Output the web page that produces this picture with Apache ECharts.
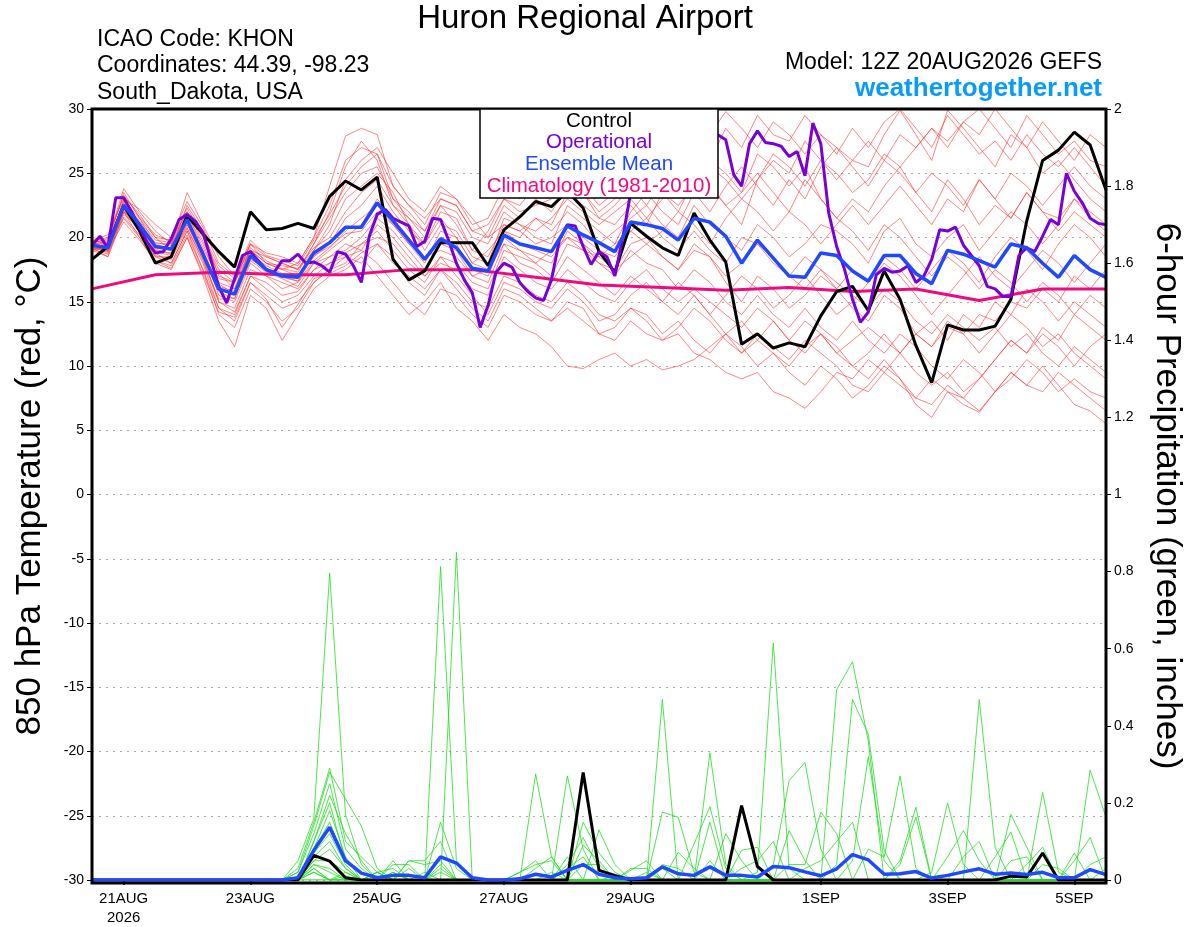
<!DOCTYPE html>
<html>
<head>
<meta charset="utf-8">
<script src="https://cdn.jsdelivr.net/npm/echarts@6/dist/echarts.min.js"></script>
<style>
html, body { margin: 0; padding: 0; background: #fff; }
#main { width: 1200px; height: 927px; }
</style>
</head>
<body>
<div id="main"></div>
<script>
// forecast hours from 12Z 20AUG2026, members every 6 h, operational every 3 h
var tickHours = [12, 60, 108, 156, 204, 276, 324, 372];
var tickLabels = ['21AUG\n2026', '23AUG', '25AUG', '27AUG', '29AUG', '1SEP', '3SEP', '5SEP'];

var control = [18.3,19.3,22.5,20.5,18.0,18.5,21.7,20.3,18.9,17.7,22.0,20.6,20.7,21.1,20.7,23.2,24.4,23.7,
  24.7,18.3,16.7,17.4,19.6,19.6,19.6,17.8,20.6,21.6,22.8,22.4,23.6,22.3,18.9,17.3,
  21.1,20.1,19.2,18.6,21.9,19.8,18.1,11.7,12.5,11.4,11.8,11.5,13.9,15.8,16.2,
  14.3,17.4,15.2,11.6,8.7,13.2,12.8,12.8,13.1,15.2,21.3,26.0,26.8,28.2,27.2,23.7];

var ensMean = [19.4,19.2,22.5,21.0,19.3,19.1,21.4,18.7,16.0,15.6,18.6,17.5,17.0,16.9,18.8,19.6,20.8,20.8,
  22.7,21.3,19.8,18.3,19.9,19.2,17.6,17.4,20.2,19.5,19.2,18.9,20.9,20.2,19.6,18.9,
  21.2,21.0,20.7,19.8,21.5,21.2,20.1,18.0,19.8,18.4,17.0,16.9,18.8,18.6,17.4,
  16.6,18.6,18.6,17.2,16.4,19.0,18.7,18.2,17.7,19.5,19.2,18.0,16.9,18.6,17.5,16.9];

var operational = [19.4,20.1,19.2,23.1,23.1,22.0,20.8,19.6,18.8,18.9,19.9,21.4,21.8,21.3,20.4,18.3,
  16.2,14.9,16.8,18.6,18.9,18.2,17.5,17.3,18.2,18.2,18.7,18.0,18.1,17.8,17.3,18.9,
  18.7,17.8,16.5,20.1,21.8,22.2,21.5,21.2,20.9,19.3,19.7,21.5,21.4,19.8,18.0,16.7,
  15.7,13.0,14.7,17.3,18.0,17.7,16.5,15.8,15.3,15.1,16.7,19.8,21.0,20.9,19.3,17.9,
  18.9,18.5,17.0,20.0,23.5,24.5,25.5,26.0,26.5,27.0,26.8,27.2,27.5,27.8,28.2,28.0,
  27.6,24.9,24.0,27.3,28.3,27.4,27.3,27.1,26.3,26.7,24.8,28.9,27.3,21.9,19.3,17.5,
  15.2,13.4,14.2,17.1,17.6,17.3,17.4,17.8,16.5,17.0,18.3,20.6,20.5,20.8,19.4,18.6,
  17.8,16.2,16.0,15.4,15.4,18.6,19.2,18.9,20.1,21.4,21.0,25.0,23.6,22.7,21.5,21.1,21.0];

// daily climatology (1981-2010)
var climatology = [16.0,17.1,17.3,17.1,17.1,17.5,17.5,16.9,16.3,16.1,15.9,16.1,15.8,16.0,15.1,16.0,16.0];

var tempMembers = [
  [19.8,19.5,23.5,21.5,20.0,19.0,22.5,20.5,17.0,16.5,19.5,18.5,18.0,17.5,19.5,22.0,25.5,27.5,
   26.0,22.5,21.0,19.5,22.0,21.5,19.0,20.5,23.0,22.5,24.0,23.5,25.5,24.0,22.5,23.5,
   25.0,24.5,26.5,25.0,27.0,26.0,28.5,27.0,29.5,28.0,27.5,29.5,28.0,26.5,28.5,
   27.0,29.0,30.0,28.5,27.0,29.5,28.0,26.5,27.5,26.0,28.0,26.5,25.5,27.0,25.5,24.0],
  [19.2,18.5,22.0,20.5,18.5,18.0,20.5,17.5,14.5,13.5,16.5,15.5,14.5,15.0,16.5,17.5,18.5,19.0,
   18.0,16.5,15.0,14.0,16.0,15.5,14.0,13.0,15.5,15.0,14.0,13.5,15.0,14.5,12.5,13.0,
   14.5,14.0,12.5,13.5,12.0,11.0,12.5,11.5,10.0,11.0,9.5,8.5,10.0,9.0,7.5,
   8.5,10.0,9.0,7.0,6.0,8.0,7.5,6.5,8.0,9.5,8.5,10.0,8.5,7.0,6.5,5.5],
  [19.5,19.0,22.0,20.0,18.0,17.5,20.0,17.0,13.5,11.5,15.5,14.5,12.0,14.0,16.0,17.0,17.5,18.5,
   17.0,15.5,14.0,15.0,16.5,14.5,13.5,12.0,14.0,13.0,12.5,11.5,10.0,9.8,10.5,11.0,
   10.0,10.5,9.7,10.0,10.5,11.5,12.5,11.0,12.0,11.0,10.0,11.5,12.5,11.0,12.0,
   13.0,12.0,11.0,12.5,13.5,12.0,14.0,13.0,15.0,14.0,16.0,15.0,13.5,15.0,14.0,13.0],
  [19.6,19.8,23.8,22.0,20.5,19.5,23.5,21.0,18.5,17.0,19.0,18.0,17.5,18.0,20.0,24.0,27.9,28.5,
   28.0,24.0,22.5,21.0,23.5,23.0,21.5,20.0,22.5,21.5,23.0,22.0,24.0,23.5,21.5,22.5,
   24.0,22.5,24.5,23.0,25.5,24.0,22.5,23.5,25.0,23.5,22.0,24.5,23.0,21.5,23.0,
   22.0,24.0,25.5,23.5,22.0,24.5,23.0,21.0,22.5,21.5,23.5,22.0,21.5,23.0,22.0,21.0],
  [19.0,19.3,21.5,20.0,18.5,18.5,21.0,19.0,15.5,15.0,18.0,17.0,16.5,16.0,17.5,18.5,19.5,19.0,
   21.0,20.0,18.5,17.0,18.5,18.0,16.5,16.0,19.0,18.5,18.0,17.0,19.5,19.0,18.5,17.5,
   19.5,20.0,18.5,17.5,19.0,18.5,16.5,15.0,17.0,16.0,14.5,15.5,17.0,16.0,14.5,
   13.5,15.5,14.5,12.5,11.5,13.5,12.5,11.0,12.5,14.0,13.0,11.5,12.5,11.0,10.0,9.0],
  [19.4,19.6,22.8,21.5,19.5,19.5,21.8,19.5,16.5,16.0,19.0,18.0,17.5,17.0,19.0,20.5,23.0,24.0,
   25.0,23.5,21.0,19.0,21.0,20.5,18.5,18.0,21.5,21.0,20.0,19.5,22.5,21.5,20.5,19.5,
   22.0,23.5,22.0,21.0,23.5,24.0,22.5,21.0,24.5,26.0,25.0,27.5,26.0,24.5,26.0,
   25.5,28.0,29.9,28.0,26.0,29.9,28.5,27.0,25.5,28.0,27.0,25.0,26.0,24.5,23.0,22.0],
  [19.3,18.8,22.2,20.5,18.8,18.0,20.5,18.0,14.5,14.0,17.0,16.0,15.0,15.5,17.0,18.0,18.5,18.0,
   19.5,18.0,17.0,16.0,17.5,16.5,15.0,14.5,17.0,16.5,15.5,15.0,16.5,15.5,14.0,13.5,
   14.5,13.5,12.0,12.5,11.0,10.5,9.5,9.0,9.5,8.0,7.5,6.7,8.0,9.5,9.0,
   10.5,9.5,11.0,12.5,11.5,13.0,12.5,14.0,13.5,15.0,14.5,16.0,15.0,17.0,16.0,17.5],
  [19.7,20.0,23.2,21.8,20.0,19.8,22.0,20.0,17.5,16.5,19.0,18.5,18.0,17.5,19.0,21.0,24.5,26.0,
   27.0,25.0,23.0,22.0,24.0,23.0,21.0,21.5,24.0,23.0,25.5,24.5,26.0,25.0,24.5,26.0,
   27.5,26.5,28.0,27.0,29.0,28.0,29.8,28.5,27.0,29.0,28.0,26.5,28.0,27.0,25.5,
   24.0,26.0,25.0,23.5,25.0,24.0,22.5,24.5,23.0,21.5,23.5,22.0,20.5,22.0,21.0,20.0],
  [19.1,18.7,21.8,20.8,19.0,18.8,21.0,18.5,15.0,14.5,17.5,17.0,16.0,16.5,18.0,19.0,20.0,21.0,
   23.0,21.5,20.0,18.5,20.0,19.5,17.5,17.0,20.0,19.0,18.5,18.0,20.5,19.5,18.0,17.0,
   19.0,18.0,17.5,16.0,17.5,16.5,15.0,14.0,15.5,14.0,13.0,14.5,13.0,12.0,13.5,
   12.0,11.0,12.5,11.5,10.0,9.0,10.5,9.5,8.0,9.0,10.5,9.5,8.0,9.0,8.0,7.5],
  [19.5,19.2,22.6,21.2,19.4,19.2,21.5,19.0,16.2,15.8,18.7,17.8,17.2,17.0,18.5,19.5,21.5,22.5,
   24.0,22.0,20.5,19.5,21.5,20.0,18.0,19.0,20.5,20.0,21.5,20.5,22.0,21.0,19.5,20.5,
   21.5,22.5,21.0,20.0,22.5,21.0,20.0,19.0,21.0,20.0,18.5,19.5,21.0,20.5,19.5,
   18.0,20.5,21.5,19.5,18.5,20.0,21.0,19.0,20.5,22.0,21.0,19.5,21.0,23.0,21.5,20.5],
  [19.0,18.5,21.6,20.2,18.2,17.8,20.2,17.5,14.0,13.0,16.0,15.0,13.5,14.5,16.5,17.5,18.0,19.5,
   20.5,19.0,17.5,16.5,18.5,17.0,15.5,14.0,16.5,16.0,15.0,14.5,16.0,15.0,13.5,14.0,
   15.5,16.5,15.0,14.0,15.5,14.0,12.5,13.5,12.0,13.5,12.0,11.0,12.5,11.5,10.0,
   11.0,12.5,11.0,9.5,8.5,9.5,8.0,9.0,10.5,12.0,11.0,12.5,11.5,10.0,11.5,12.5],
  [19.6,19.4,22.9,21.0,19.6,19.4,21.8,19.2,16.8,16.5,19.5,18.0,17.8,17.6,19.2,20.0,22.0,23.5,
   24.5,22.5,21.5,20.5,22.5,22.0,20.0,19.5,22.0,21.0,20.5,21.5,23.0,22.0,21.0,22.0,
   23.0,21.5,23.0,24.5,23.5,22.0,24.0,25.5,24.0,22.5,24.5,23.0,25.5,27.0,26.0,
   27.5,26.0,28.0,27.0,28.5,27.5,29.0,28.0,30.0,28.5,27.0,29.0,27.5,26.0,28.0,27.0],
  [19.3,19.0,22.3,20.6,18.9,18.6,20.8,18.3,15.2,15.3,18.2,17.3,16.8,16.2,18.0,18.5,19.0,20.0,
   21.5,20.5,19.0,17.5,19.5,19.0,17.0,16.5,19.5,18.0,17.5,16.5,18.5,17.5,16.5,15.5,
   17.0,16.0,15.0,16.5,15.5,14.0,15.5,17.0,16.0,14.5,15.5,17.0,15.5,14.0,15.0,
   16.5,18.0,17.0,15.5,14.0,15.5,17.0,18.5,17.0,16.0,17.5,19.0,18.0,16.5,18.0,19.5],
  [19.8,20.2,23.0,22.2,21.0,20.0,22.8,20.8,18.0,17.0,19.5,18.8,18.5,18.0,20.0,22.5,26.0,27.0,
   26.5,23.0,22.0,20.5,23.0,22.5,20.5,20.0,21.0,20.5,19.5,20.0,21.0,20.0,19.0,18.5,
   20.5,19.5,20.5,22.0,21.0,19.5,21.5,23.0,22.0,20.5,22.0,21.0,19.5,21.0,22.5,
   21.0,22.5,24.0,22.5,21.0,23.0,22.0,24.5,23.0,25.0,24.0,22.5,24.0,25.5,24.0,23.0],
  [19.2,18.9,22.1,20.7,18.6,18.3,20.7,18.2,15.0,14.2,17.0,16.5,15.5,15.8,17.5,18.0,18.8,19.5,
   20.0,19.5,18.0,17.0,18.0,17.5,16.0,15.5,18.5,17.5,16.5,16.0,17.5,16.5,15.5,15.0,
   16.5,17.5,16.0,15.0,16.0,15.0,14.0,13.0,14.5,13.5,12.0,13.5,12.5,11.0,10.0,
   9.0,10.5,9.0,7.5,7.0,8.5,7.5,9.0,10.5,12.0,11.0,13.0,12.0,14.0,13.0,12.0],
  [19.5,19.7,22.7,21.3,19.8,19.6,22.0,19.7,17.2,16.0,19.2,18.2,17.6,17.3,19.5,21.5,23.5,25.0,
   25.5,23.0,21.5,20.0,22.5,21.0,19.0,18.5,21.0,20.5,21.5,21.0,23.5,22.5,21.5,21.0,
   22.5,21.0,23.5,22.0,24.5,26.0,25.0,23.5,26.5,25.5,24.0,25.5,23.0,21.5,20.5,
   19.0,21.0,20.0,18.5,17.0,18.5,17.5,16.0,17.5,16.5,15.0,16.5,15.5,14.0,15.5,14.5],
  [19.4,19.1,22.4,21.1,19.2,19.0,21.2,18.9,15.8,15.2,18.4,17.4,16.9,16.6,18.2,19.2,20.5,21.5,
   22.5,21.0,19.5,18.0,20.5,20.0,18.0,17.5,20.5,19.5,19.0,18.5,20.0,19.5,18.5,19.5,
   20.5,21.5,20.0,19.0,20.5,19.0,18.0,20.0,19.5,18.0,17.0,18.5,17.5,16.0,17.5,
   16.5,18.5,17.5,16.0,17.5,19.0,18.0,16.5,18.5,20.0,19.0,17.5,19.5,21.0,20.0,18.5],
  [19.2,19.0,21.2,19.8,18.2,17.6,20.0,17.2,14.2,13.8,16.5,15.2,13.0,14.8,16.8,17.2,17.8,18.8,
   19.5,18.5,16.5,15.5,17.5,16.0,14.5,13.5,16.0,15.5,14.5,13.5,14.5,13.5,12.5,12.0,
   13.5,12.5,12.0,13.0,14.5,13.5,12.0,11.0,12.5,11.5,10.5,12.0,11.0,10.0,8.5,
   8.0,9.5,8.5,7.5,9.0,8.0,7.0,6.4,8.0,9.5,8.5,8.0,9.5,8.5,7.5,6.5],
  [19.6,19.9,23.3,21.6,20.2,19.7,22.3,20.2,17.8,16.8,19.8,18.6,18.2,17.8,19.8,21.8,24.0,25.5,
   26.5,24.0,22.5,21.5,23.0,22.5,20.5,21.0,23.0,22.0,22.5,23.0,24.5,23.5,22.0,23.0,
   24.0,25.0,23.5,22.5,24.0,25.5,24.5,23.0,24.5,26.5,25.5,24.0,26.0,25.0,23.5,
   24.5,26.5,25.5,27.0,28.5,27.0,29.0,30.0,28.5,27.0,29.5,28.0,26.5,27.5,26.0,25.5],
  [19.3,19.4,22.0,20.9,19.1,18.7,21.3,18.6,16.4,15.6,18.3,17.6,17.0,16.6,18.6,19.3,20.3,20.5,
   22.0,21.0,19.5,18.5,19.0,18.5,17.0,17.5,19.5,19.0,18.0,19.0,20.0,19.0,18.0,17.5,
   18.5,19.5,18.5,17.5,19.5,18.5,17.0,18.0,19.5,18.5,17.0,16.0,17.5,16.5,15.5,
   14.5,16.0,15.0,13.5,12.5,14.0,13.0,12.0,13.0,11.5,12.5,11.0,10.0,11.5,10.5,9.5]
];

var precipControl = [0,0,0,0,0,0,0,0,0,0,0,0,0,
  0,.064,.049,.006,0,0,0,0,0,0,0,0,0,
  0,0,0,0,0,.279,.025,.012,0,0,0,0,0,
  0,0,.193,.035,0,0,0,0,0,0,0,0,0,
  0,0,0,0,0,0,.01,.008,.07,0,0,0,0];

var precipMean = [0,0,0,0,0,0,0,0,0,0,0,0,0,
  .006,.077,.137,.05,.018,.006,.012,.012,.006,.06,.044,.006,0,
  0,.003,.015,.008,.025,.04,.015,.006,.003,.006,.034,.016,.012,
  .034,.012,.012,.008,.035,.032,.021,.011,.029,.066,.052,.015,.016,
  .022,.005,.012,.021,.029,.015,.018,.014,.02,.006,.006,.027,.014];

var precipMembers = [
  [0,0,0,0,0,0,0,0,0,0,0,0,0, .05,.16,.796,.17,.04,0,0,0,0,.02,0,0,0,
   0,0,0,0,0,0,0,.01,0,0,.468,0,0, 0,0,0,0,0,0,0,0,0,0,0,0,.05, .189,0,0,0,0,0,0,0,0,0,0,0,0],
  [0,0,0,0,0,0,0,0,0,0,0,0,0, .03,.15,.29,.1,.06,.02,.03,0,0,0,0,0,0,
   0,0,.03,.06,0,0,0,0,0,0,.176,.163,.02, 0,0,0,0,0,0,0,0,0,0,0,0,.04, .163,0,0,0,0,0,0,0,0,0,0,0,0],
  [0,0,0,0,0,0,0,0,0,0,0,0,0, .02,.14,.28,.21,.14,.03,0,0,0,0,0,0,0,
   0,0,0,0,0,0,0,0,0,0,.04,.03,0, .05,0,0,0,0,0,0,0,0,0,0,0,0, 0,.02,.2,.04,0,0,0,0,0,0,0,0,0],
  [0,0,0,0,0,0,0,0,0,0,0,0,0, .02,.12,.25,.08,.03,0,0,0,0,.04,0,0,0,
   0,0,0,0,0,.09,.05,0,0,0,.03,0,0, 0,0,0,0,0,0,0,0,0,0,0,0,0, 0,0,.06,.128,.05,0,0,0,0,0,0,0,0],
  [0,0,0,0,0,0,0,0,0,0,0,0,0, 0,.1,.22,.12,.05,0,0,0,0,0,0,0,0,
   0,.02,.04,.05,0,0,0,0,0,0,0,.072,.03, 0,0,0,0,0,0,0,0,0,0,0,0,0, 0,0,0,.06,.1,0,0,0,0,0,0,0,0],
  [0,0,0,0,0,0,0,0,0,0,0,0,0, 0,.1,.2,.05,.02,0,.02,0,0,0,0,0,0,
   0,0,0,0,.27,.08,0,0,0,0,0,0,.094, .19,.03,0,0,0,0,0,0,0,0,0,0,0, 0,0,0,0,.468,.085,0,0,0,0,0,0,0],
  [0,0,0,0,0,0,0,0,0,0,0,0,0, 0,.08,.18,.06,0,0,0,.03,0,.03,0,0,0,
   0,0,0,0,0,0,0,0,0,.02,0,0,0, .33,.04,0,0,0,0,0,0,0,0,0,0,0, 0,0,0,0,0,.06,.124,0,0,0,0,0,0],
  [0,0,0,0,0,0,0,0,0,0,0,0,0, 0,.08,.15,.05,.02,0,0,0,0,0,0,0,0,
   0,0,0,.02,0,0,0,0,.025,.05,0,0,0, .15,0,0,0,0,0,0,0,0,0,0,0,0, 0,0,0,0,0,0,.17,.085,0,0,0,0,0],
  [0,0,0,0,0,0,0,0,0,0,0,0,0, 0,.07,.12,.04,0,.02,0,0,0,0,0,0,0,
   0,0,0,0,.04,.11,.03,0,0,0,0,0,0, 0,.12,.05,0,0,0,0,0,0,0,0,0,0, 0,0,0,0,0,0,.05,.06,0,0,0,0,0],
  [0,0,0,0,0,0,0,0,0,0,0,0,0, 0,.06,.1,.03,0,.02,0,0,0,.15,.03,0,0,
   0,0,0,0,0,0,0,0,0,0,0,0,0, 0,0,.077,.085,0,0,0,0,0,0,0,0,0, 0,0,0,0,0,0,0,.04,.085,0,0,0,0],
  [0,0,0,0,0,0,0,0,0,0,0,0,0, 0,.05,.08,.03,0,0,0,.05,.04,.05,0,0,0,
   0,0,.275,.06,0,0,0,0,0,0,0,0,0, 0,0,.03,.05,.1,0,0,0,0,0,0,0,0, 0,0,0,0,0,0,0,0,.227,.02,0,0,0],
  [0,0,0,0,0,0,0,0,0,0,0,0,0, 0,.05,.05,.02,0,.02,0,0,0,0,0,0,0,
   0,.02,.05,0,.06,0,0,0,0,0,0,0,0, 0,0,0,.02,.615,.03,0,0,0,0,0,0,0, 0,0,0,0,0,0,0,0,.04,.03,0,0,0],
  [0,0,0,0,0,0,0,0,0,0,0,0,0, 0,.04,.03,0,0,0,.05,0,.02,0,0,0,0,
   0,0,0,0,0,.15,.07,.02,0,0,0,0,0, 0,0,0,0,.04,.258,.305,.08,0,0,0,0,0, 0,0,0,0,0,0,0,0,0,0,.07,0,0],
  [0,0,0,0,0,0,0,0,0,0,0,0,0, 0,.04,.02,0,0,0,.04,.04,0,0,0,0,0,
   0,0,0,0,.03,.06,0,0,0,0,0,0,0, 0,0,0,0,0,.128,.05,0,0,0,0,0,0, 0,0,0,0,0,0,0,0,0,0,.05,.11,0],
  [0,0,0,0,0,0,0,0,0,0,0,0,0, 0,.03,0,.02,0,0,0,0,0,0,0,0,0,
   0,0,0,0,0,0,.13,.04,0,0,0,0,0, 0,0,0,0,0,.04,.04,.176,.12,0,0,0,0, 0,0,0,0,0,0,0,0,0,0,0,.285,.163],
  [0,0,0,0,0,0,0,0,0,0,0,0,0, 0,.03,0,.01,0,0,0,0,0,.813,.05,0,0,
   0,0,0,0,0,0,0,0,.03,.03,0,0,0, 0,0,0,0,0,0,.03,.05,.1,.15,0,0,0, 0,0,0,0,0,0,0,0,0,0,0,.04,.06],
  [0,0,0,0,0,0,0,0,0,0,0,0,0, 0,.02,0,0,0,.01,0,0,0,0,.85,0,0,
   0,0,0,0,0,0,0,0,0,0,0,0,0, 0,0,0,0,0,0,0,0,.494,.566,.36,0,0, 0,0,0,0,0,0,0,0,0,0,0,0,.03],
  [0,0,0,0,0,0,0,0,0,0,0,0,0, 0,.02,0,0,0,0,.02,0,0,0,0,0,0,
   0,0,0,0,0,0,0,0,0,0,0,0,0, 0,0,0,0,0,0,0,0,.04,.468,.378,.077,0, 0,0,0,0,0,0,0,0,0,0,0,0,0],
  [0,0,0,0,0,0,0,0,0,0,0,0,0, 0,0,0,0,0,0,0,.05,.05,.1,0,0,0,
   0,0,0,0,0,0,0,0,0,0,0,0,0, 0,0,0,0,0,0,0,0,0,.05,.32,.05,0, 0,0,0,0,0,0,0,0,0,0,0,0,0],
  [0,0,0,0,0,0,0,0,0,0,0,0,0, 0,0,0,0,0,0,0,0,0,0,0,0,0,
   0,0,0,0,0,.04,.04,0,0,0,0,0,0, 0,0,0,0,0,0,0,0,0,0,.08,.06,.27, .03,0,0,0,0,0,0,0,0,0,0,0,0]
];

var FONT = '"Liberation Sans", Arial, sans-serif';

function byHour(arr, step) {
  return arr.map(function (v, k) { return [k * step, v]; });
}

var series = [];
tempMembers.forEach(function (m, n) {
  series.push({
    name: 'member' + (n + 1), type: 'line', yAxisIndex: 0, data: byHour(m, 6),
    showSymbol: false, silent: true,
    lineStyle: { color: '#ff3030', width: 0.8, opacity: 0.75 }
  });
});
precipMembers.forEach(function (m, n) {
  series.push({
    name: 'precip' + (n + 1), type: 'line', yAxisIndex: 1, data: byHour(m, 6),
    showSymbol: false, silent: true,
    lineStyle: { color: '#22dd22', width: 0.8 }
  });
});
series.push(
  { name: 'Climatology', type: 'line', yAxisIndex: 0, data: byHour(climatology, 24),
    showSymbol: false, lineStyle: { color: '#ee0a80', width: 3 } },
  { name: 'Control', type: 'line', yAxisIndex: 0, data: byHour(control, 6),
    showSymbol: false, lineStyle: { color: '#000', width: 3 } },
  { name: 'Control precip', type: 'line', yAxisIndex: 1, data: byHour(precipControl, 6),
    showSymbol: false, lineStyle: { color: '#000', width: 3 } },
  { name: 'Operational', type: 'line', yAxisIndex: 0, data: byHour(operational, 3),
    showSymbol: false, lineStyle: { color: '#7a00d8', width: 3 } },
  { name: 'Ensemble Mean', type: 'line', yAxisIndex: 0, data: byHour(ensMean, 6),
    showSymbol: false, lineStyle: { color: '#1f48ff', width: 3.5 } },
  { name: 'Mean precip', type: 'line', yAxisIndex: 1, data: byHour(precipMean, 6),
    showSymbol: false, lineStyle: { color: '#1f48ff', width: 3.5 } }
);

var myChart = echarts.init(document.getElementById('main'));
myChart.setOption({
  animation: false,
  backgroundColor: '#fff',
  textStyle: { fontFamily: FONT },
  grid: { left: 92, right: 94, top: 109, bottom: 44, containLabel: false },
  xAxis: {
    type: 'value', min: 0, max: 384,
    axisLine: { show: false, onZero: false },
    splitLine: { show: false },
    axisTick: { show: true, customValues: tickHours, length: 5, lineStyle: { color: '#000', width: 1.5 } },
    axisLabel: {
      customValues: tickHours, color: '#000', fontSize: 15, fontFamily: FONT, margin: 9, lineHeight: 19,
      formatter: function (v) { return tickLabels[tickHours.indexOf(v)] || ''; }
    }
  },
  yAxis: [
    {
      type: 'value', min: -30, max: 30, interval: 5, position: 'left',
      axisLine: { show: false },
      axisTick: { show: true, length: 5, lineStyle: { color: '#000' } },
      axisLabel: { color: '#000', fontSize: 14, fontFamily: FONT, margin: 8 },
      splitLine: { show: true, lineStyle: { color: '#aaa', width: 1, type: [2, 5] } }
    },
    {
      type: 'value', min: 0, max: 2, interval: 0.2, position: 'right',
      axisLine: { show: false },
      axisTick: { show: true, length: 5, lineStyle: { color: '#000' } },
      axisLabel: {
        color: '#000', fontSize: 14, fontFamily: FONT, margin: 8,
        formatter: function (v) { return String(Math.round(v * 10) / 10); }
      },
      splitLine: { show: false }
    }
  ],
  graphic: [
    { type: 'rect', z: 100, silent: true, shape: { x: 92, y: 109, width: 1014, height: 774 },
      style: { fill: 'transparent', stroke: '#000', lineWidth: 3 } },
    { type: 'rect', z: 100, silent: true, shape: { x: 480, y: 109, width: 238, height: 89 },
      style: { fill: '#fff', stroke: '#000', lineWidth: 1.5 } },
    { type: 'text', z: 101, x: 599, y: 121, style: { text: 'Control', fill: '#000', font: '20.5px ' + FONT, align: 'center', verticalAlign: 'middle' } },
    { type: 'text', z: 101, x: 599, y: 142, style: { text: 'Operational', fill: '#7a00d8', font: '20.5px ' + FONT, align: 'center', verticalAlign: 'middle' } },
    { type: 'text', z: 101, x: 599, y: 164, style: { text: 'Ensemble Mean', fill: '#1f48ff', font: '20.5px ' + FONT, align: 'center', verticalAlign: 'middle' } },
    { type: 'text', z: 101, x: 599, y: 186, style: { text: 'Climatology (1981-2010)', fill: '#ee0a80', font: '20.5px ' + FONT, align: 'center', verticalAlign: 'middle' } },
    { type: 'text', z: 101, x: 585, y: 19, style: { text: 'Huron Regional Airport', fill: '#000', font: '33px ' + FONT, align: 'center', verticalAlign: 'middle' } },
    { type: 'text', z: 101, x: 97, y: 40, style: { text: 'ICAO Code: KHON', fill: '#000', font: '23px ' + FONT, align: 'left', verticalAlign: 'middle' } },
    { type: 'text', z: 101, x: 97, y: 66, style: { text: 'Coordinates: 44.39, -98.23', fill: '#000', font: '23px ' + FONT, align: 'left', verticalAlign: 'middle' } },
    { type: 'text', z: 101, x: 97, y: 93, style: { text: 'South_Dakota, USA', fill: '#000', font: '23px ' + FONT, align: 'left', verticalAlign: 'middle' } },
    { type: 'text', z: 101, x: 1102, y: 63, style: { text: 'Model: 12Z 20AUG2026 GEFS', fill: '#000', font: '23px ' + FONT, align: 'right', verticalAlign: 'middle' } },
    { type: 'text', z: 101, x: 1102, y: 89, style: { text: 'weathertogether.net', fill: '#0a9bf5', font: 'bold 26px ' + FONT, align: 'right', verticalAlign: 'middle' } },
    { type: 'text', z: 101, x: 30, y: 496, rotation: Math.PI / 2,
      style: { text: '850 hPa Temperature (red, °C)', fill: '#000', font: '35px ' + FONT, align: 'center', verticalAlign: 'middle' } },
    { type: 'text', z: 101, x: 1167, y: 496, rotation: -Math.PI / 2,
      style: { text: '6-hour Precipitation (green, inches)', fill: '#000', font: '35px ' + FONT, align: 'center', verticalAlign: 'middle' } }
  ],
  series: series
});
</script>
</body>
</html>
